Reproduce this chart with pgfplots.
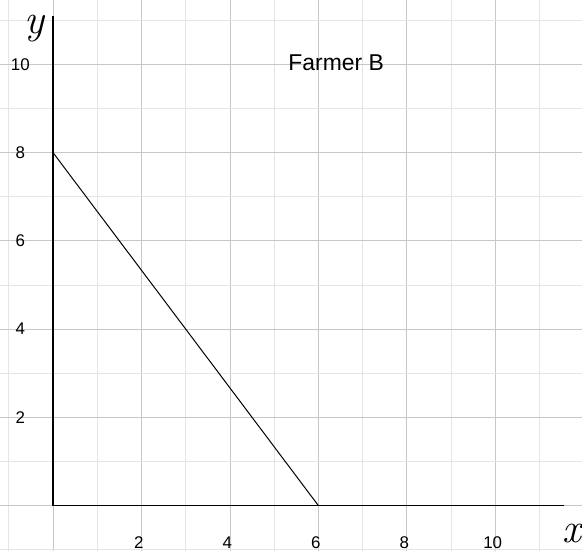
\documentclass[border=0pt]{standalone}
\usepackage{fontspec}
\newfontfamily\lsans{Liberation Sans}
\usepackage{pgfplots}
\pgfplotsset{compat=1.18}
\begin{document}
\begin{tikzpicture}[tl/.style={font=\lsans\fontsize{17}{17}\selectfont}]
\begin{axis}[
  scale only axis,
  width=582bp, height=551bp,
  xmin=-1.19, xmax=11.95,
  ymin=-1.02, ymax=11.45,
  xtick={-2,0,...,12}, ytick={-2,0,...,12},
  minor tick num=1,
  xticklabels={}, yticklabels={},
  tick label style={overlay},
  major tick length=0pt, minor tick length=0pt,
  grid=both,
  major grid style={color=black!22, line width=0.8bp},
  minor grid style={color=black!10, line width=0.8bp},
  axis line style={draw=none},
  clip=false,
]
\addplot[black, line width=1.3bp] coordinates {(0,11.1) (0,0) (11.56,0)};
\addplot[black, line width=1bp] coordinates {(0,8) (6,0)};
\node[tl] at (axis cs:1.94,-0.84) {2};
\node[tl] at (axis cs:3.94,-0.84) {4};
\node[tl] at (axis cs:5.94,-0.84) {6};
\node[tl] at (axis cs:7.94,-0.84) {8};
\node[tl] at (axis cs:9.94,-0.84) {10};
\node[tl] at (axis cs:-0.74,2) {2};
\node[tl] at (axis cs:-0.74,4) {4};
\node[tl] at (axis cs:-0.74,6) {6};
\node[tl] at (axis cs:-0.74,8) {8};
\node[tl] at (axis cs:-0.74,10) {10};
\node[font=\lsans\fontsize{23}{23}\selectfont] at (axis cs:6.4,10.04) {Farmer B};
\node[inner sep=0pt, font=\fontsize{42}{42}\selectfont\itshape] at (axis cs:-0.42,10.82) {y};
\node[inner sep=0pt, font=\fontsize{42}{42}\selectfont\itshape] at (axis cs:11.72,-0.64) {x};
\end{axis}
\end{tikzpicture}
\end{document}
